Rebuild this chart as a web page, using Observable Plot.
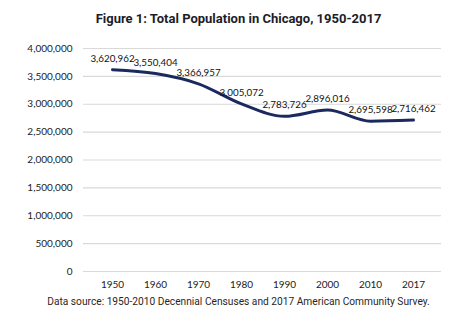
<!DOCTYPE html>
<html><head><meta charset="utf-8">
<script src="https://cdn.jsdelivr.net/npm/d3@7"></script>
<script src="https://cdn.jsdelivr.net/npm/@observablehq/plot@0.6"></script>
<style>
body{margin:0;background:#fff;width:469px;height:325px;overflow:hidden;}
#title{height:36px;line-height:38px;text-align:center;font-family:Roboto,sans-serif;font-weight:bold;font-size:13px;color:#1c1c2a;padding-left:8px;}
#chart{height:258px;}
#chart svg{display:block;}
#caption{text-align:center;font-family:Roboto,sans-serif;font-size:10.2px;color:#2a1f1f;margin-top:2px;padding-left:8px;}
</style></head>
<body>
<div id="title">Figure 1: Total Population in Chicago, 1950-2017</div>
<div id="chart"></div>
<div id="caption">Data source: 1950-2010 Decennial Censuses and 2017 American Community Survey.</div>
<script>
const years = ["1950","1960","1970","1980","1990","2000","2010","2017"];
const population = [3620962,3550404,3366957,3005072,2783726,2896016,2695598,2716462];
const yTicks = [0,500000,1000000,1500000,2000000,2500000,3000000,3500000,4000000];

const data = years.map((y,i)=>({year:y, pop:population[i]}));
const fmt = d3.format(",");

const chart = Plot.plot({
  width: 469,
  height: 258,
  marginLeft: 83,
  marginRight: 28,
  marginTop: 12,
  marginBottom: 23,
  style: {fontFamily: "Lato, sans-serif", fontSize: "10px", color: "#222"},
  x: {type: "point", domain: years, padding: 0.58, label: null, tickSize: 0, tickPadding: 9},
  y: {domain: [0, 4000000], ticks: yTicks, tickFormat: d => fmt(d), label: null, tickSize: 0, tickPadding: 11},
  marks: [
    Plot.ruleY(yTicks, {stroke: "#d9d9d9", strokeWidth: 1.2}),
    Plot.line(data, {x: "year", y: "pop", stroke: "#1b2a5e", strokeWidth: 3, curve: "monotone-x"}),
    Plot.text(data, {x: "year", y: "pop", text: d => fmt(d.pop), dy: -11, fill: "#111", fontSize: 9.8, fontFamily: "Lato, sans-serif"})
  ]
});
document.getElementById("chart").appendChild(chart);
</script>
</body></html>
